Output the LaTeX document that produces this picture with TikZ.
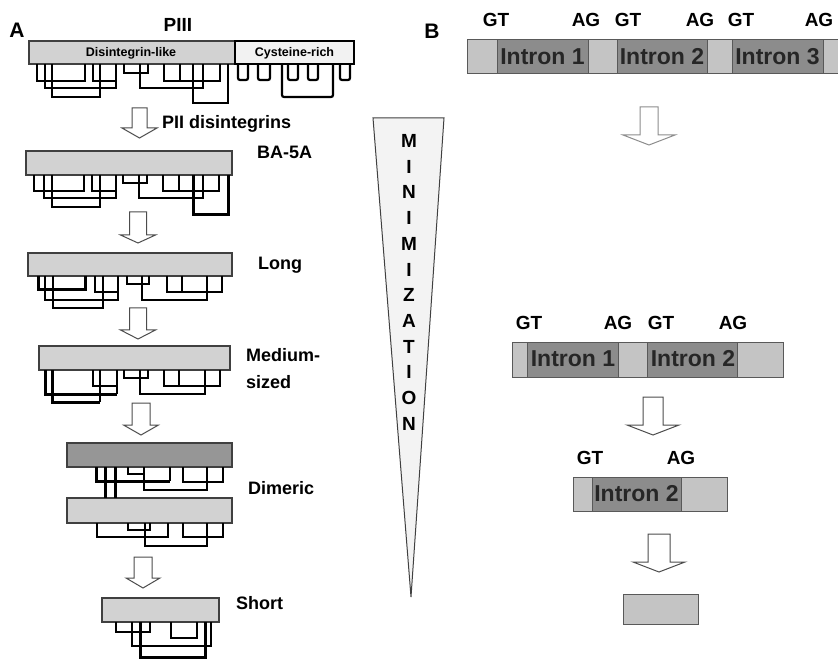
\documentclass[tikz,border=0pt]{standalone}
\usepackage{fontspec}
\setmainfont{Liberation Sans}
\definecolor{lightbar}{RGB}{210,210,210}
\definecolor{darkbar}{RGB}{150,150,150}
\definecolor{exon}{RGB}{196,196,196}
\definecolor{intron}{RGB}{140,140,140}
\definecolor{cone}{RGB}{243,243,243}
\newcommand\ssb[5][]{\draw[bnd,#1] (#2,#4) -- (#2,#5) -- (#3,#5) -- (#3,#4);}
\newcommand\harr[7][]{\draw[harrow,#1] ({#2-#6},#3) -- ({#2+#6},#3) -- ({#2+#6},#4) -- ({#2+#7},#4) -- (#2,#5) -- ({#2-#7},#4) -- ({#2-#6},#4) -- cycle;}
\tikzset{
 bar/.style={draw=black!75, line width=1.1pt, fill=lightbar},
 bnd/.style={draw=black, line width=1.1pt},
 heavybond/.style={draw=black, line width=3pt},
 cys/.style={draw=black, line width=2.2pt, rounded corners=2pt},
 harrow/.style={draw=black!70, line width=1pt, fill=white},
 lbl/.style={font=\fontsize{18}{18}\selectfont\bfseries, anchor=west, inner sep=0pt},
 big/.style={font=\fontsize{21}{21}\selectfont\bfseries, inner sep=0pt},
 small/.style={font=\fontsize{12.5}{12.5}\selectfont\bfseries, inner sep=0pt},
 site/.style={font=\fontsize{19}{19}\selectfont\bfseries, inner sep=0pt},
 intr/.style={font=\fontsize{23}{23}\selectfont\bfseries, inner sep=0pt, text=black!85},
 exseg/.style={fill=exon, draw=black!65, line width=1pt},
 inseg/.style={fill=intron, draw=black!65, line width=1pt},
}
\begin{document}
\begin{tikzpicture}[x=1pt,y=-1pt]
\useasboundingbox (0,0) rectangle (838,660);
% ---------- Panel A ----------
\node[big] (labA) at (17,30) {A};
\node[font=\fontsize{19}{19}\selectfont\bfseries, inner sep=0pt] (piii) at (178,25) {PIII};
% PIII bar
\draw[bar] (29,41) rectangle (235,64);
\draw[draw=black, line width=2.2pt, fill=gray!10] (235,41) rectangle (354,64);
\node[small] (dl) at (131,53) {Disintegrin-like};
\node[small] (cr) at (294.5,53) {Cysteine-rich};
% PIII disintegrin bonds
\ssb{37}{85}{64}{81}
\ssb{45}{116}{64}{88}
\ssb{52}{100}{64}{97}
\ssb{93}{116}{64}{81}
\ssb{124}{148}{64}{73}
\ssb{140}{203}{64}{88}
\ssb{164}{220}{64}{81}
\draw[bnd] (180,64) -- (180,81);
\ssb{193}{228}{64}{103}
% cysteine-rich bonds
\draw[cys] (238,64) -- (238,80) -- (248,80) -- (248,64);
\draw[cys] (258,64) -- (258,80) -- (270,80) -- (270,64);
\draw[cys] (288,64) -- (288,80) -- (298,80) -- (298,64);
\draw[cys] (308,64) -- (308,80) -- (318,80) -- (318,64);
\draw[cys] (340,64) -- (340,80) -- (350,80) -- (350,64);
\draw[cys] (282,64) -- (282,97) -- (333,97) -- (333,64);
% arrow 1
\harr{139.5}{108}{128}{138}{7.5}{17.5}
\node[lbl] (pii) at (162,124) {PII disintegrins};
% BA-5A
\draw[bar] (26,151) rectangle (232,175);
\node[lbl] (ba) at (257,152) {BA-5A};
\ssb{34}{84}{175}{191}
\ssb{44}{116}{175}{198}
\ssb{52}{100}{175}{207}
\ssb{92}{116}{175}{191}
\ssb{123}{147}{175}{183}
\ssb{139}{203}{175}{198}
\ssb{163}{219}{175}{191}
\draw[bnd] (179,175) -- (179,191);
\ssb[heavybond]{193}{228}{175}{215}
% arrow 2
\harr{138}{212}{235}{243}{8.5}{17.5}
% Long
\draw[bar] (28,253) rectangle (232,276);
\node[lbl] (long) at (258,265) {Long};
\ssb[heavybond]{38}{85}{276}{290}
\ssb{45}{118}{276}{300}
\ssb{53}{103}{276}{308}
\ssb{95}{118}{276}{292}
\ssb{127}{149}{276}{284}
\ssb{142}{207}{276}{300}
\ssb{167}{222}{276}{292}
\draw[bnd] (182,276) -- (182,292);
% arrow 3
\harr{138}{308}{330}{339}{8.5}{17.5}
% Medium-sized
\draw[bar] (39,346) rectangle (230,370);
\node[lbl] (med1) at (246,355) {Medium-};
\node[lbl] (med2) at (246,382) {sized};
\draw[heavybond] (45,370) -- (45,394) -- (117,394);
\draw[bnd] (117,370) -- (117,394);
\draw[heavybond] (52,370) -- (52,402) -- (100,402);
\draw[bnd] (100,370) -- (100,402);
\ssb{93}{117}{370}{386}
\ssb{124}{148}{370}{378}
\ssb{140}{205}{370}{394}
\ssb{164}{220}{370}{386}
\draw[bnd] (179,370) -- (179,386);
% arrow 4
\harr{141}{403}{425}{435}{9}{17.5}
% Dimeric
\draw[bar, fill=darkbar] (67,443) rectangle (232,467);
\draw[bar] (67,498) rectangle (232,523);
\node[lbl] (dim) at (248,488) {Dimeric};
\draw[heavybond] (96,467) -- (96,481) -- (170,481);
\draw[bnd] (170,467) -- (170,481);
\draw[heavybond] (105,467) -- (105,498);
\draw[heavybond] (115,467) -- (115,498);
\ssb{128}{144}{467}{474}
\ssb{144}{207}{467}{490}
\ssb{183}{223}{467}{482}
\ssb{97}{168}{523}{537}
\ssb{128}{150}{523}{530}
\ssb{145}{207}{523}{546}
\ssb{183}{223}{523}{537}
% arrow 5
\harr{143}{557}{578}{588}{9}{17}
% Short
\draw[bar] (102,598) rectangle (219,622);
\node[lbl] (short) at (236,603) {Short};
\ssb{116}{150}{622}{632}
\ssb{132}{211}{622}{646}
\ssb{171}{197}{622}{638}
\ssb[heavybond]{140}{205}{622}{657}
% ---------- Minimization cone ----------
\draw[fill=cone, draw=black!75, line width=1pt] (373,118) -- (444,118) -- (411,597) -- cycle;
\foreach \l [count=\i from 0] in {M,I,N,I,M,I,Z,A,T,I,O,N}
  \node[font=\fontsize{19}{19}\selectfont\bfseries, inner sep=0pt] (m\i) at (409,{141+25.7*\i}) {\l};
% ---------- Panel B ----------
\node[big] (labB) at (432,31) {B};
% top gene
\draw[exseg] (467,40) rectangle (497,74);
\draw[inseg] (497,40) rectangle (588,74);
\draw[exseg] (588,40) rectangle (617,74);
\draw[inseg] (617,40) rectangle (707,74);
\draw[exseg] (707,40) rectangle (732,74);
\draw[inseg] (732,40) rectangle (823,74);
\draw[exseg] (823,40) rectangle (850,74);
\node[intr] (t1) at (542.5,57) {Intron 1};
\node[intr] (t2) at (662,57) {Intron 2};
\node[intr] (t3) at (777.5,57) {Intron 3};
\node[site] (g1) at (496,20) {GT};
\node[site] (a1) at (586,20) {AG};
\node[site] (g2) at (628,20) {GT};
\node[site] (a2) at (700,20) {AG};
\node[site] (g3) at (741,20) {GT};
\node[site] (a3) at (819,20) {AG};
\harr[draw=black!45]{649}{107}{135}{145}{9}{26}
% middle gene
\draw[exseg] (512,342) rectangle (527,377);
\draw[inseg] (527,342) rectangle (618,377);
\draw[exseg] (618,342) rectangle (647,377);
\draw[inseg] (647,342) rectangle (737,377);
\draw[exseg] (737,342) rectangle (783,377);
\node[intr] (u1) at (573,359) {Intron 1};
\node[intr] (u2) at (693,359) {Intron 2};
\node[site] (h1) at (529,323) {GT};
\node[site] (b1) at (618,323) {AG};
\node[site] (h2) at (661,323) {GT};
\node[site] (b2) at (733,323) {AG};
\harr{653}{397}{425}{435}{10}{26}
% third gene
\draw[exseg] (573,477) rectangle (592,511);
\draw[inseg] (592,477) rectangle (681,511);
\draw[exseg] (681,477) rectangle (727,511);
\node[intr] (v1) at (636.5,494) {Intron 2};
\node[site] (k1) at (590,458) {GT};
\node[site] (c1) at (681,458) {AG};
\harr{659}{534}{562}{572}{11}{26}
% final exon
\draw[exseg] (623,594) rectangle (698,624);
\end{tikzpicture}
\end{document}
